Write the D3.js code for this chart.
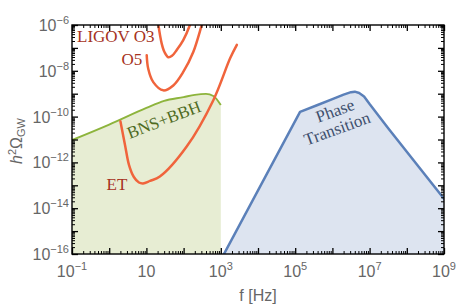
<!DOCTYPE html>
<html><head><meta charset="utf-8">
<script src="https://cdn.jsdelivr.net/npm/d3@7"></script>
<style>body{margin:0;background:#fff}</style>
</head><body>
<svg id="c" width="460" height="307"></svg>
<script>
// ---- data ----
const bnsF     = [0.1, 1, 10, 30, 100, 200, 400, 630, 1000];
const bnsOmega = [9.5e-12, 4.5e-11, 2.4e-10, 4.9e-10, 7.1e-10, 8.9e-10, 9.8e-10, 7.9e-10, 3.2e-10];

const etF     = [2.0, 2.66, 3.4, 4.6, 6.3, 8.1, 12.5, 23, 121, 630, 1780, 2700];
const etOmega = [6.2e-11, 5.8e-12, 7.8e-13, 2.3e-13, 1.32e-13, 1.2e-13, 1.55e-13, 2.4e-13, 4.9e-12, 5.2e-10, 3.5e-8, 1.35e-7];

const o3F     = [20.5, 25.7, 30.6, 38.8, 48.8, 65.3, 98, 148, 160];
const o3Omega = [1.3e-6, 1.58e-7, 6.6e-8, 3.9e-8, 4.5e-8, 8.1e-8, 2.2e-7, 1.0e-6, 1.5e-6];

const o5F     = [10.2, 11.2, 15.3, 28.4, 52.8, 98, 182, 307, 330];
const o5Omega = [4.8e-8, 1.23e-8, 3.2e-9, 1.4e-9, 2.3e-9, 8.9e-9, 6.6e-8, 9.8e-7, 1.4e-6];

const ptF     = [1e3, 1.35e5, 4e5, 1e6, 2e6, 3.16e6, 4e6, 5.25e6, 7.1e6, 1e7, 3.16e7, 1e9, 1.26e9];
const ptOmega = [5.5e-17, 1.6e-10, 3.2e-10, 5.8e-10, 9.1e-10, 1.17e-9, 1.23e-9, 1.07e-9, 7.6e-10, 3.55e-10, 3.1e-11, 2.6e-14, 1.6e-14];

const xTickExps = [-1, 1, 3, 5, 7, 9];
const yTickExps = [-6, -8, -10, -12, -14, -16];

// ---- layout ----
const svg = d3.select("#c");
const L = 72, R = 444, T = 25, B = 254;
const x = d3.scaleLog().domain([1e-1, 1e9]).range([L, R]);
const y = d3.scaleLog().domain([1e-16, 1e-6]).range([B, T]);

svg.append("defs").append("clipPath").attr("id", "clip")
  .append("rect").attr("x", L).attr("y", T).attr("width", R - L).attr("height", B - T);

const plot = svg.append("g").attr("clip-path", "url(#clip)");

const zip = (fs, os) => fs.map((f, i) => [f, os[i]]);
const line = d3.line().x(d => x(d[0])).y(d => y(d[1]));
const area = d3.area().x(d => x(d[0])).y0(y(1e-16)).y1(d => y(d[1]));

const bns = zip(bnsF, bnsOmega);
const pt = zip(ptF, ptOmega);
const et = zip(etF, etOmega);
const o3 = zip(o3F, o3Omega);
const o5 = zip(o5F, o5Omega);

// fills
plot.append("path").attr("d", area.curve(d3.curveMonotoneX)(bns)).attr("fill", "#e7edd3");
plot.append("path").attr("d", area.curve(d3.curveLinear)(pt)).attr("fill", "#dde4f0");

// lines
plot.append("path").attr("d", line.curve(d3.curveMonotoneX)(bns))
  .attr("fill", "none").attr("stroke", "#8db43c").attr("stroke-width", 1.9);
plot.append("path").attr("d", line.curve(d3.curveLinear)(pt))
  .attr("fill", "none").attr("stroke", "#5b80b9").attr("stroke-width", 2.5).attr("stroke-linejoin", "round");

const orange = "#f0643c";
[et, o3, o5].forEach(d => {
  plot.append("path").attr("d", line.curve(d3.curveCatmullRom.alpha(0.5))(d))
    .attr("fill", "none").attr("stroke", orange).attr("stroke-width", 2.5)
    .attr("stroke-linecap", "round").attr("stroke-linejoin", "round");
});

// ---- axes (inward ticks on all sides) ----
const majX = d3.range(-1, 10).map(e => Math.pow(10, e));
const minX = [];
for (let e = -1; e < 9; e++) for (let k = 2; k <= 9; k++) minX.push(k * Math.pow(10, e));
const majY = d3.range(-16, -5).map(e => Math.pow(10, e));
const minY = [];
for (let e = -16; e < -6; e++) for (let k = 2; k <= 9; k++) minY.push(k * Math.pow(10, e));

function ax(gen, scale, vals, size, tx, ty, w) {
  const g = svg.append("g").attr("transform", `translate(${tx},${ty})`)
    .call(gen(scale).tickValues(vals).tickSize(size).tickSizeOuter(0).tickFormat(() => ""));
  g.select(".domain").remove();
  g.selectAll("line").attr("stroke", "#000").attr("stroke-width", w);
}
ax(d3.axisBottom, x, majX, -6, 0, B, 1.3);
ax(d3.axisBottom, x, minX, -3, 0, B, 1);
ax(d3.axisTop, x, majX, -6, 0, T, 1.3);
ax(d3.axisTop, x, minX, -3, 0, T, 1);
ax(d3.axisLeft, y, majY, -6, L, 0, 1.3);
ax(d3.axisLeft, y, minY, -3, L, 0, 1);
ax(d3.axisRight, y, majY, -6, R, 0, 1.3);
ax(d3.axisRight, y, minY, -3, R, 0, 1);

svg.append("rect").attr("x", L).attr("y", T).attr("width", R - L).attr("height", B - T)
  .attr("fill", "none").attr("stroke", "#000").attr("stroke-width", 1.4);

// tick labels
const tickFont = "'Liberation Sans', Arial, sans-serif";
const tc = "#666";
xTickExps.forEach(e => {
  const t = svg.append("text").attr("x", x(Math.pow(10, e))).attr("y", 277)
    .attr("text-anchor", "middle").attr("font-family", tickFont).attr("font-size", 16).attr("fill", tc);
  t.append("tspan").text("10");
  if (e !== 1) t.append("tspan").attr("dy", -7).attr("font-size", 11).text(e < 0 ? "\u2212" + (-e) : e);
});
yTickExps.forEach(e => {
  const t = svg.append("text").attr("x", 69).attr("y", y(Math.pow(10, e)) + 6)
    .attr("text-anchor", "end").attr("font-family", tickFont).attr("font-size", 16).attr("fill", tc);
  t.append("tspan").text("10");
  t.append("tspan").attr("dy", -7).attr("font-size", 11).text("\u2212" + (-e));
});

// axis titles
svg.append("text").attr("x", 258).attr("y", 301).attr("text-anchor", "middle")
  .attr("font-family", tickFont).attr("font-size", 16).attr("fill", tc).text("f [Hz]");
const yl = svg.append("text").attr("transform", "translate(22,141) rotate(-90)")
  .attr("text-anchor", "middle").attr("font-family", tickFont).attr("font-size", 16).attr("fill", tc);
yl.append("tspan").attr("font-style", "italic").text("h");
yl.append("tspan").attr("dy", -6).attr("font-size", 11).text("2");
yl.append("tspan").attr("dy", 6).text("\u03A9");
yl.append("tspan").attr("dy", 3).attr("font-size", 11).text("GW");

// curve labels
const serif = "'Liberation Serif', 'Times New Roman', serif";
const red = "#a63222";
function lab(txt, px, py, color, rot, anchor) {
  svg.append("text").attr("transform", `translate(${px},${py}) rotate(${rot || 0})`)
    .attr("text-anchor", anchor || "start").attr("font-family", serif).attr("font-size", 17)
    .attr("fill", color).text(txt);
}
lab("LIGOV O3", 77, 41.5, red);
lab("O5", 121.5, 65, red);
lab("ET", 106.5, 190, red);
lab("BNS+BBH", 166, 125, "#4f6b1f", -21, "middle");
lab("Phase", 337, 116, "#3d4f6d", -20, "middle");
lab("Transition", 339, 134, "#3d4f6d", -20, "middle");
</script>
</body></html>
